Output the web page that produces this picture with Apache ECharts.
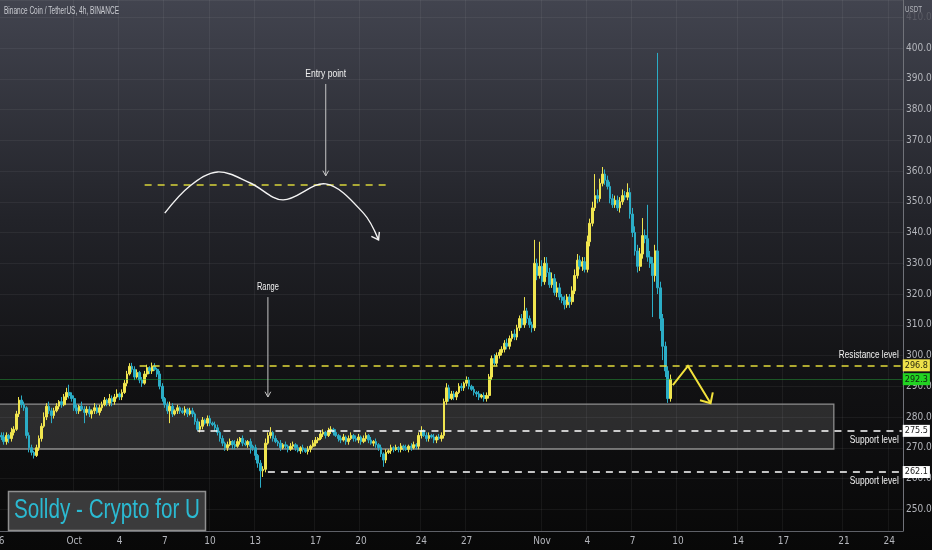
<!DOCTYPE html>
<html>
<head>
<meta charset="utf-8">
<script src="https://cdn.jsdelivr.net/npm/echarts@6.0.0/dist/echarts.min.js"></script>
<style>
  html, body { margin: 0; padding: 0; background: #000; }
  #chart { width: 932px; height: 550px; }
</style>
</head>
<body>
<div id="chart"></div>
<script>
// BNB/USDT 4h candles, 26 Sep – 9 Nov 2022

// ---- data ----
const startUTC = Date.UTC(2022, 8, 26, 0);   // first axis slot
const slotCount = 360;                        // 4h slots on the time axis
const firstSlot = 1;                          // first candle sits at 26 Sep 04:00
const firstOpen = 274;

const closes = [
  273.5, 272, 274, 273, 275, 276, 281, 285.5, 284, 283,
  274, 270, 268.5, 267.5, 270, 273, 277, 280, 283.5, 282,
  280.5, 282, 283.5, 285, 284, 286.5, 288, 287, 286, 283,
  282, 283.5, 282.5, 281.5, 282.5, 281, 282, 283, 281.5, 283,
  284, 285.5, 284.5, 286, 285, 286.5, 287.5, 286.5, 288, 291,
  294, 296.5, 295.5, 293, 294.5, 292, 291, 294, 296, 295,
  296.5, 295.5, 294, 290, 286, 284, 282, 283.5, 281, 282,
  283, 282, 281.5, 282.5, 281, 282, 281, 278.5, 276, 277,
  279, 278, 279.5, 278, 277.5, 276.5, 275, 273, 271.5, 270,
  271, 272, 271, 270.5, 272, 273, 271.5, 271, 272, 270.5,
  270, 267.5, 265, 262.5, 263, 271.5, 274, 275, 273, 272,
  271.5, 270, 271, 270.5, 269.5, 270.5, 271, 270, 269, 270,
  269.5, 268.8, 269.5, 270.5, 271.5, 272.5, 273, 274.5, 275, 274,
  275.5, 276, 275, 274, 273, 272.5, 273.5, 272, 273, 274,
  273, 272.5, 273.5, 272, 273, 274, 272.5, 271.5, 272, 271,
  270, 268, 266, 268.5, 269, 270, 269.5, 270, 269.5, 270.5,
  270, 269.5, 270.5, 270, 271, 270.5, 274, 275.5, 274, 273,
  274, 273.5, 272.5, 273.5, 273, 274, 285, 289.5, 286, 287.5,
  286.5, 288, 290, 289.5, 291, 292, 290, 289, 288, 287.5,
  286.5, 287, 286, 287, 293, 299, 297.5, 300, 301, 302,
  304, 303, 305.5, 307, 306, 309, 312, 310, 314.5, 312,
  310, 309, 330, 326, 329, 324, 330, 327, 323, 325,
  320.5, 322, 319, 318, 316.5, 319, 317.5, 321, 326, 331,
  329, 330.5, 328, 337, 343, 348, 352, 351, 356, 359,
  357, 355, 351, 349, 350.5, 348, 350, 352, 351.5, 353,
  346, 340, 334, 329, 333, 339, 338, 332, 330, 326,
  334, 322, 312, 303, 295, 286, 292.3
];

// wick above max(open, close)
const wickUp = [
  1, 1.5, 1, 0.5, 1.5, 1, 1, 1, 1.5, 1,
  0.5, 1, 1, 0.5, 1, 1, 1, 1.5, 1, 1.5,
  1, 1, 1, 0.5, 1.5, 1, 1.5, 2.5, 1, 1,
  1, 0.5, 1.5, 1, 1, 1, 0.5, 1.5, 1, 1,
  1, 1, 0.5, 1.5, 1, 1, 1.5, 0.5, 1, 1,
  1, 1, 1.1, 1, 1, 0.5, 1, 1, 1, 0.5,
  1.2, 1, 0.5, 1, 1, 0.5, 1, 1.5, 1, 0.5,
  1, 0.5, 1, 1, 0.5, 1, 1, 0.5, 1, 1.5,
  1, 0.5, 1, 1, 0.5, 1, 1, 0.5, 1, 0.5,
  1, 1, 0.5, 1.5, 1, 0.5, 1, 1, 0.5, 1,
  0.5, 1, 0.5, 1, 1, 1.5, 1, 1.7, 0.5, 1,
  0.5, 1, 0.5, 1, 0.5, 1, 1, 0.5, 1, 0.5,
  1, 0.5, 1, 0.5, 1, 1, 0.5, 1, 1, 0.5,
  1, 1, 0.5, 1, 0.5, 1, 1, 0.5, 1, 1,
  0.5, 1, 1, 0.5, 1, 1, 0.5, 1, 0.5, 1,
  0.5, 1, 0.5, 1, 0.5, 1, 0.5, 1, 0.5, 1,
  0.5, 1, 0.5, 1, 1, 0.5, 1, 1.5, 0.5, 1,
  1, 0.5, 1, 0.5, 1, 1, 1, 1.5, 1, 1,
  1, 0.5, 1, 1, 0.5, 1.2, 1, 0.5, 1, 0.5,
  1, 0.5, 1, 1, 1, 1, 1.5, 1, 1, 1,
  1, 1.5, 1, 1, 1.5, 1, 1, 1.5, 4.5, 1,
  1, 1, 7.6, 1.5, 8, 2, 2, 2, 1.5, 2,
  1.5, 2, 1.5, 1, 1.5, 1, 1, 1.5, 2, 2,
  1.5, 1.5, 1.5, 2, 1.5, 2, 7, 2, 1.5, 2.3,
  1.5, 1.5, 1.5, 1.5, 1.5, 1.5, 1.5, 2, 1.5, 3,
  1.5, 2, 2, 2, 2, 5.7, 2, 11, 2, 2,
  2, 64.4, 2, 1.5, 1.5, 1.5, 1.5
];

// wick below min(open, close)
const wickDn = [
  1, 1, 1, 1.5, 1, 1, 0.5, 1, 1, 1,
  1, 1.5, 1, 1, 0.5, 1, 1, 0.5, 1, 1,
  2.5, 1, 0.5, 1, 1, 0.5, 1, 1, 1, 1,
  1, 1, 0.5, 3.5, 1, 1, 1.5, 1, 0.5, 1,
  1, 0.5, 1, 1, 1.5, 1, 0.5, 1, 1, 0.5,
  1, 0.5, 1, 1, 0.5, 1, 1.2, 0.5, 1, 1,
  1, 0.5, 1, 1, 1, 1, 1, 4, 1, 0.5,
  1, 1, 0.5, 1, 1, 0.5, 1, 1, 0.5, 1,
  1, 0.5, 1, 1, 0.5, 1, 1, 1, 1, 1,
  1, 0.5, 1.5, 1, 0.5, 1, 1, 0.5, 1, 2.4,
  1, 1.5, 1.5, 5.5, 2, 1, 0.5, 1, 1, 0.5,
  1, 1, 0.5, 1, 1, 0.5, 1, 1, 0.5, 1,
  1, 0.5, 1, 1, 0.5, 1, 1, 0.5, 1, 1,
  0.5, 1, 1, 0.5, 1, 1, 0.5, 1, 1, 0.5,
  1, 0.5, 1, 1, 0.5, 1, 1, 0.5, 1, 1,
  1, 1, 2.2, 1, 0.5, 1, 1, 0.5, 1, 1,
  1, 0.5, 1, 1, 0.5, 1, 1, 1, 0.5, 1,
  1, 0.5, 1, 1, 0.5, 1, 1, 1, 1, 0.5,
  1, 1, 0.5, 1, 1, 1, 1, 0.5, 1, 1,
  1, 0.5, 1, 1, 1, 1, 1, 1, 1, 1,
  1, 1, 1, 1, 1, 1, 1, 1, 1, 1.5,
  1, 1.5, 1, 1.5, 1, 1.5, 1, 1.5, 1, 1,
  1, 1.5, 1, 1, 1.5, 1, 2, 1, 1, 1,
  1, 1.5, 1, 1, 1.5, 1, 1, 1.5, 1, 1,
  1.5, 1, 1.5, 1, 1, 1, 1.5, 1, 1, 1,
  1.5, 1.5, 1.5, 2, 1.5, 1.5, 1.5, 1.5, 1.5, 13.5,
  2, 2, 4, 4.5, 2, 1.4, 1
];

const tickDates  = ['09-26', '10-01', '10-04', '10-07', '10-10', '10-13', '10-17', '10-20', '10-24',
                    '10-27', '11-01', '11-04', '11-07', '11-10', '11-14', '11-17', '11-21', '11-24'];
const tickLabels = ['26', 'Oct', '4', '7', '10', '13', '17', '20', '24',
                    '27', 'Nov', '4', '7', '10', '14', '17', '21', '24'];

const priceMin = 242.93;
const priceMax = 415.61;

const resistance = 296.8;
const supportHigh = 275.5;
const supportLow = 262.1;
const lastPrice = 292.3;
const rangeTop = 284.2;
const rangeBottom = 269.6;
const entryLevel = 355.4;

// drawn annotations, in [slot, price]
const curvePts = [[66, 346.3], [76, 355.1], [87, 359.7], [100, 356.1], [113, 350.6],
                  [130, 355.8], [145, 346.3], [151, 337.6]];
const entryArrow = [[130, 388.3], [130, 358.4]];
const rangeArrow = [[107, 319.0], [107, 286.5]];
const zigzagPts = [[268, 290.4], [274, 296.6], [283, 284.5]];

// ---- build ----
const FONT = "'Liberation Sans Narrow','DejaVu Sans Condensed','Liberation Sans',sans-serif";
const pad = n => String(n).padStart(2, '0');

const categories = [];
for (let k = 0; k < slotCount; k++) {
  const d = new Date(startUTC + k * 4 * 3600 * 1000);
  categories.push(pad(d.getUTCMonth() + 1) + '-' + pad(d.getUTCDate()) + ' ' + pad(d.getUTCHours()));
}
const tickOf = v => (v.endsWith(' 00') ? tickDates.indexOf(v.slice(0, 5)) : -1);

const candles = [];
for (let k = 0; k < firstSlot; k++) candles.push(['-', '-', '-', '-']);
let prev = firstOpen;
closes.forEach((c, i) => {
  const o = prev;
  candles.push([o, c, Math.min(o, c) - wickDn[i], Math.max(o, c) + wickUp[i]]);
  prev = c;
});

const lastSlot = slotCount - 1;
const tag = (bg, fg) => ({
  show: true, position: 'end', distance: 1,
  backgroundColor: bg, color: fg, fontSize: 9, fontFamily: FONT,
  padding: [2, 2, 1, 2]
});

const chart = echarts.init(document.getElementById('chart'));

chart.setOption({
  animation: false,
  backgroundColor: new echarts.graphic.LinearGradient(0, 0, 0, 1, [
    { offset: 0, color: '#42444f' },
    { offset: 0.4, color: '#222329' },
    { offset: 0.7, color: '#111113' },
    { offset: 1, color: '#080808' }
  ]),
  grid: { left: -2.5, right: 29, top: 0, bottom: 19, outerBoundsMode: 'none' },
  xAxis: {
    type: 'category',
    data: categories,
    boundaryGap: true,
    axisLine: { lineStyle: { color: '#5e6067' } },
    axisTick: { show: false },
    axisLabel: {
      interval: (i, v) => tickOf(v) >= 0,
      formatter: v => tickLabels[tickOf(v)],
      color: '#b4b6bc', fontSize: 10, fontFamily: FONT, margin: 5
    },
    splitLine: {
      show: true,
      interval: (i, v) => tickOf(v) >= 0,
      lineStyle: { color: 'rgba(255,255,255,0.055)' }
    }
  },
  yAxis: {
    type: 'value',
    position: 'right',
    min: priceMin,
    max: priceMax,
    splitNumber: 17,
    minInterval: 10,
    maxInterval: 10,
    axisLine: { show: true, lineStyle: { color: '#707279' } },
    axisTick: { show: false },
    axisLabel: {
      showMinLabel: false, showMaxLabel: false,
      margin: 3, color: '#b4b6bc', fontSize: 10, fontFamily: FONT,
      formatter: v => (v >= 410 ? '{f|' + v.toFixed(1) + '}' : v.toFixed(1)),
      rich: { f: { color: 'rgba(180,182,188,0.22)', fontSize: 10, fontFamily: FONT } }
    },
    splitLine: { lineStyle: { color: 'rgba(255,255,255,0.055)' } }
  },
  series: [{
    type: 'candlestick',
    data: candles,
    barWidth: 2.2,
    itemStyle: {
      color: '#f0e54f', color0: '#2badc6',
      borderColor: '#f0e54f', borderColor0: '#2badc6',
      borderWidth: 1
    },
    markArea: {
      silent: true,
      itemStyle: { color: 'rgba(255,255,255,0.12)', borderColor: '#8d8d8d', borderWidth: 1.3 },
      data: [[{ coord: [0, rangeTop] }, { coord: [332, rangeBottom] }]]
    },
    markLine: {
      silent: true,
      symbol: 'none',
      data: [
        [{ coord: [0, lastPrice], lineStyle: { color: 'rgba(40,170,60,0.45)', type: 'solid', width: 1 },
           label: Object.assign(tag('#22d322', '#10200f'), { formatter: lastPrice.toFixed(1) }) },
         { coord: [lastSlot, lastPrice] }],
        [{ coord: [56, resistance], lineStyle: { color: '#e2db3a', type: [7, 6], width: 1.6 },
           label: Object.assign(tag('#efe04a', '#2a2a10'), { formatter: resistance.toFixed(1) }) },
         { coord: [lastSlot, resistance] }],
        [{ coord: [79, supportHigh], lineStyle: { color: '#ffffff', type: [7, 6], width: 1.6 },
           label: Object.assign(tag('#ffffff', '#222222'), { formatter: supportHigh.toFixed(1) }) },
         { coord: [lastSlot, supportHigh] }],
        [{ coord: [107, supportLow], lineStyle: { color: '#ffffff', type: [7, 6], width: 1.6 },
           label: Object.assign(tag('#ffffff', '#222222'), { formatter: supportLow.toFixed(1) }) },
         { coord: [lastSlot, supportLow] }],
        [{ coord: [58, entryLevel], lineStyle: { color: '#d8d43a', type: [7, 6], width: 1.6 },
           label: { show: false } },
         { coord: [155, entryLevel] }]
      ]
    }
  }]
});

// ---- annotations ----
const px = p => chart.convertToPixel({ seriesIndex: 0 }, p);
const ctx = document.createElement('canvas').getContext('2d');
const fontOf = size => size + 'px "Liberation Sans", sans-serif';
const fitScale = (text, size, width) => {
  ctx.font = fontOf(size);
  return width / ctx.measureText(text).width;
};
const label = (text, x, y, size, width, fill, align) => ({
  type: 'text', x: x, y: y, scaleX: fitScale(text, size, width), z: 100,
  style: { text: text, fill: fill, font: fontOf(size), textAlign: align, textVerticalAlign: 'middle' }
});
const arrowHead = (tip, from, len, ang, stroke, width) => {
  const dx = tip[0] - from[0], dy = tip[1] - from[1];
  const n = Math.hypot(dx, dy), ux = dx / n, uy = dy / n;
  const arm = s => {
    const c = Math.cos(s * ang), si = Math.sin(s * ang);
    return [tip[0] - len * (ux * c - uy * si), tip[1] - len * (ux * si + uy * c)];
  };
  return { type: 'polyline', z: 100, shape: { points: [arm(1), tip, arm(-1)] },
           style: { stroke: stroke, lineWidth: width, fill: null } };
};
const seg = (a, b, stroke, width) => ({
  type: 'line', z: 100, shape: { x1: a[0], y1: a[1], x2: b[0], y2: b[1] },
  style: { stroke: stroke, lineWidth: width }
});

const curve = curvePts.map(px);
const ea = entryArrow.map(px);
const ra = rangeArrow.map(px);
const zz = zigzagPts.map(px);
const axisRight = px([lastSlot, resistance])[0] + 1;
const yRes = px([0, resistance])[1];
const ySupH = px([0, supportHigh])[1];
const ySupL = px([0, supportLow])[1];

chart.setOption({
  graphic: [
    label('Binance Coin / TetherUS, 4h, BINANCE', 4, 11, 10, 115, '#c9cbd1', 'left'),
    label('USDT', 905, 10, 9, 17, '#b4b6bc', 'left'),
    // entry idea sketch
    { type: 'polyline', z: 100, shape: { points: curve, smooth: 0.35 },
      style: { stroke: '#f4f4f4', lineWidth: 1.4, fill: null } },
    arrowHead(curve[curve.length - 1], curve[curve.length - 2], 8, 0.61, '#f4f4f4', 1.4),
    label('Entry point', ea[0][0], ea[0][1] - 10, 11, 41, '#f0f0f0', 'center'),
    seg(ea[0], ea[1], '#c6c6c6', 1),
    arrowHead(ea[1], ea[0], 6, 0.5, '#c6c6c6', 1),
    // range marker
    label('Range', ra[0][0], ra[0][1] - 10, 11, 22, '#f0f0f0', 'center'),
    seg(ra[0], ra[1], '#c6c6c6', 1),
    arrowHead(ra[1], ra[0], 6, 0.5, '#c6c6c6', 1),
    // retest arrow
    { type: 'polyline', z: 100, shape: { points: zz },
      style: { stroke: '#f2e23c', lineWidth: 2, fill: null } },
    arrowHead(zz[2], zz[1], 11, 0.75, '#f2e23c', 2),
    // level names
    label('Resistance level', axisRight - 4, yRes - 10, 11, 60, '#f2f2f2', 'right'),
    label('Support level', axisRight - 4, ySupH + 9, 11, 49, '#f2f2f2', 'right'),
    label('Support level', axisRight - 4, ySupL + 9, 11, 49, '#f2f2f2', 'right'),
    // watermark
    { type: 'rect', z: 100, shape: { x: 8.5, y: 491.5, width: 197, height: 39 },
      style: { fill: '#3b3b3c', stroke: '#8f8f8f', lineWidth: 1.5 } },
    label('Solldy - Crypto for U', 107, 511, 27, 186, '#2bbad2', 'center')
  ]
});
</script>
</body>
</html>
